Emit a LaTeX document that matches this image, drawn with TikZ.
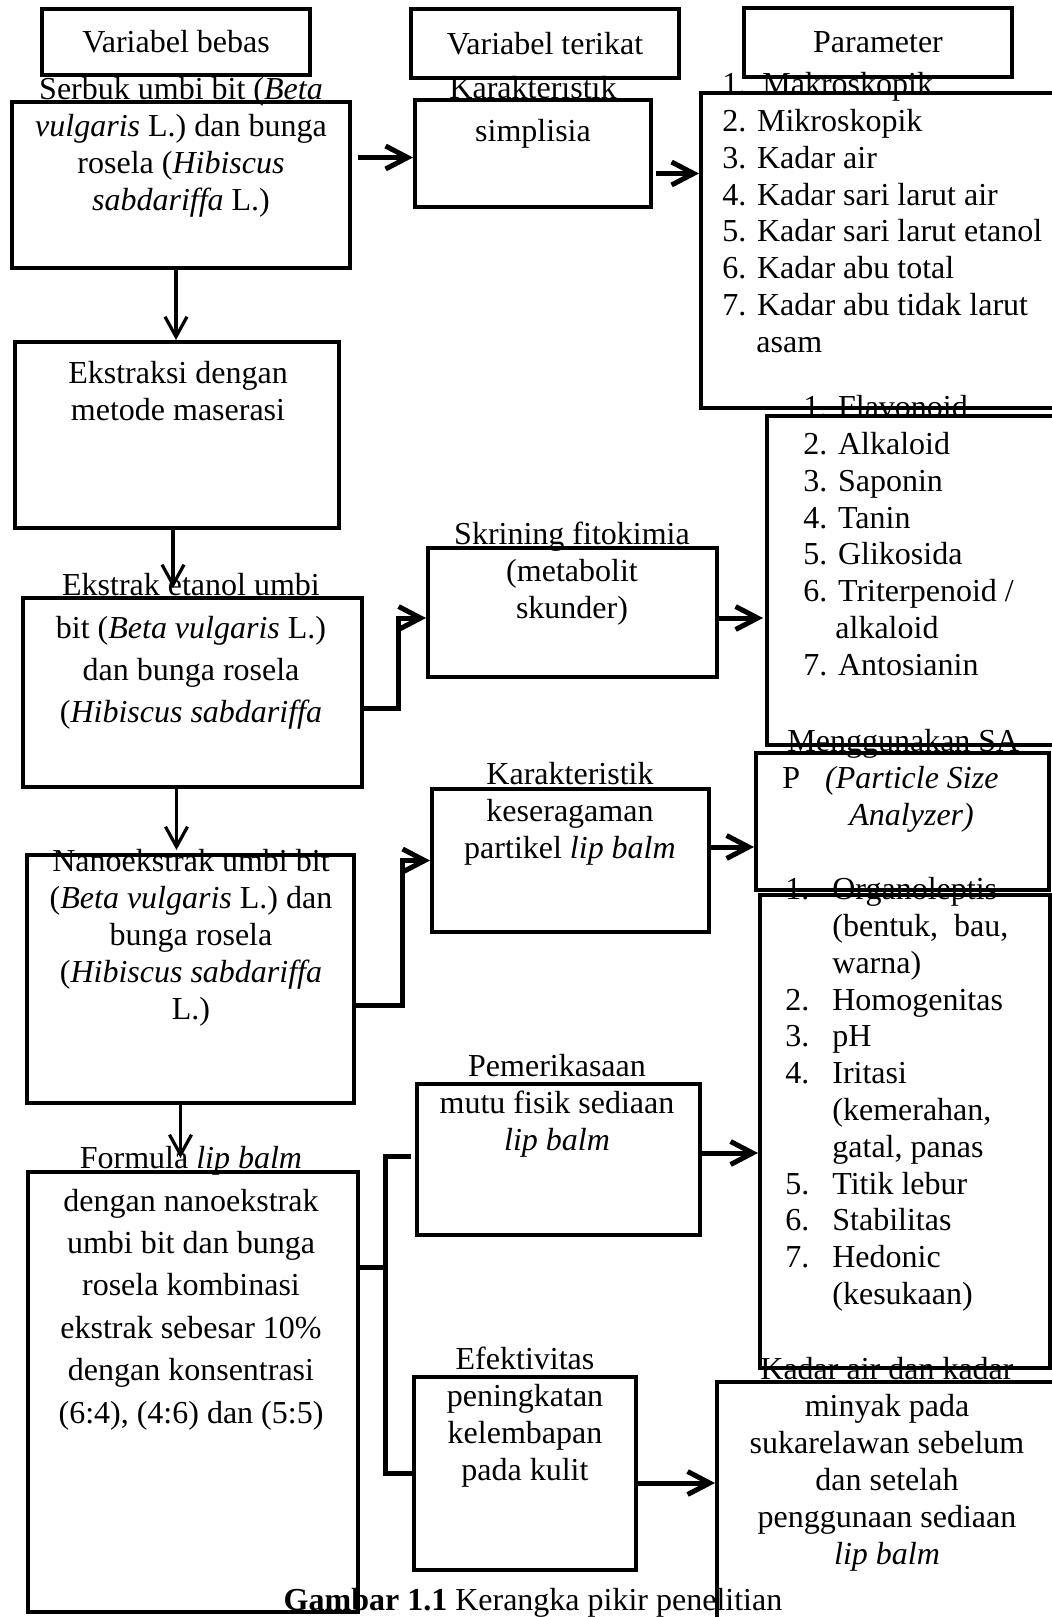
\documentclass[tikz,border=0pt]{standalone}
\usepackage{fontspec}
\setmainfont{Liberation Serif}
\usetikzlibrary{arrows.meta, positioning, calc, fit}

\begin{document}
\begin{tikzpicture}[x=0.5pt, y=-0.5pt,
    box/.style={draw, line width=2pt, inner sep=0pt},
    hdr/.style={inner sep=0pt, font=\fontsize{16}{18.5}\selectfont},
    txt/.style={anchor=north, inner sep=0pt, align=center, font=\fontsize{16}{18.5}\selectfont},
    lst/.style={anchor=north west, inner sep=0pt, align=left, font=\fontsize{16}{18.4}\selectfont},
    loose/.style={font=\fontsize{16}{21.2}\selectfont},
    fat/.style={line width=2.5pt, -{Straight Barb[length=11pt,width=11.5pt]}},
    slim/.style={line width=1.6pt, -{Straight Barb[length=10pt,width=11pt]}},
    link/.style={line width=2.5pt}]

  \useasboundingbox (0,0) rectangle (1052,1617);
  \clip (0,0) rectangle (1052,1617);

  % Headers
  \node[box, fit={(42,9) (310,75)}] (bhA) {};
  \node[box, fit={(411,9) (679,78)}] (bhB) {};
  \node[box, fit={(744,8) (1012,77)}] (bhC) {};
  \node[hdr] (hA) at (bhA.center) {Variabel bebas};
  \node[hdr] (hB) at (bhB.center) {Variabel terikat};
  \node[hdr] (hC) at (bhC.center) {Parameter};

  % Boxes
  \node[box, fit={(12,102) (350,268)}] (bA) {};
  \node[box, fit={(415,100) (651,207)}] (bB) {};
  \node[box, fit={(701,93) (1080,408)}] (bC) {};
  \node[box, fit={(15,342) (339,528)}] (bD) {};
  \node[box, fit={(23,598) (362,787)}] (bE) {};
  \node[box, fit={(428,548) (717,677)}] (bF) {};
  \node[box, fit={(767,416) (1080,745)}] (bG) {};
  \node[box, fit={(756,753) (1049,890)}] (bH) {};
  \node[box, fit={(432,789) (709,932)}] (bI) {};
  \node[box, fit={(27,855) (354,1103)}] (bJ) {};
  \node[box, fit={(760,895) (1050,1368)}] (bK) {};
  \node[box, fit={(417,1084) (700,1235)}] (bL) {};
  \node[box, fit={(28,1172) (358,1612)}] (bM) {};
  \node[box, fit={(414,1377) (636,1570)}] (bN) {};
  \node[box, fit={(717,1382) (1080,1700)}] (bO) {};

  % Texts
  \node[txt] (tA) at (181,77) {Serbuk umbi bit (\textit{Beta}\\
    \textit{vulgaris} L.) dan bunga\\rosela (\textit{Hibiscus}\\\textit{sabdariffa} L.)};
  \node[txt, loose] (tB) at (533,76) {Karakteristik\\simplisia};
  \node[lst] (tC) at (722,72) {1.\ \ Makroskopik\\2. Mikroskopik\\3. Kadar air\\
    4. Kadar sari larut air\\5. Kadar sari larut etanol\\6. Kadar abu total\\
    7. Kadar abu tidak larut\\\hspace*{17pt}asam};
  \node[txt] (tD) at (178,361) {Ekstraksi dengan\\metode maserasi};
  \node[txt, loose] (tE) at (191,573) {Ekstrak etanol umbi\\bit (\textit{Beta vulgaris} L.)\\
    dan bunga rosela\\(\textit{Hibiscus sabdariffa}};
  \node[txt] (tF) at (572,522) {Skrining fitokimia\\(metabolit\\skunder)};
  \node[lst] (tG) at (803,395) {1. Flavonoid\\2. Alkaloid\\3. Saponin\\4. Tanin\\5. Glikosida\\
    6. Triterpenoid /\\\hspace*{16pt}alkaloid\\7. Antosianin};
  \node[lst] (tH) at (782,729) {\hspace*{2.5pt}Menggunakan SA\\
    P\hspace*{12.5pt}\textit{(Particle Size}\\\hspace*{33.5pt}\textit{Analyzer)}};
  \node[txt] (tI) at (570,762) {Karakteristik\\keseragaman\\partikel \textit{lip balm}};
  \node[txt] (tJ) at (191,849) {Nanoekstrak umbi bit\\(\textit{Beta vulgaris} L.) dan\\
    bunga rosela\\(\textit{Hibiscus sabdariffa}\\L.)};
  \node[lst] (tK) at (785,877) {\makebox[23.5pt][l]{1.}Organoleptis\\
    \hspace*{23.5pt}(bentuk,\ \ bau,\\\hspace*{23.5pt}warna)\\
    \makebox[23.5pt][l]{2.}Homogenitas\\\makebox[23.5pt][l]{3.}pH\\
    \makebox[23.5pt][l]{4.}Iritasi\\\hspace*{23.5pt}(kemerahan,\\\hspace*{23.5pt}gatal, panas\\
    \makebox[23.5pt][l]{5.}Titik lebur\\\makebox[23.5pt][l]{6.}Stabilitas\\
    \makebox[23.5pt][l]{7.}Hedonic\\\hspace*{23.5pt}(kesukaan)};
  \node[txt] (tL) at (557,1054) {Pemerikasaan\\mutu fisik sediaan\\\textit{lip balm}};
  \node[txt, loose] (tM) at (191,1146) {Formula \textit{lip balm}\\dengan nanoekstrak\\
    umbi bit dan bunga\\rosela kombinasi\\ekstrak sebesar 10\%\\dengan konsentrasi\\
    (6:4), (4:6) dan (5:5)};
  \node[txt] (tN) at (525,1347) {Efektivitas\\peningkatan\\kelembapan\\pada kulit};
  \node[txt] (tO) at (887,1357) {Kadar air dan kadar\\minyak pada\\sukarelawan sebelum\\
    dan setelah\\penggunaan sediaan\\\textit{lip balm}};

  % Caption
  \node[anchor=base, inner sep=0pt, font=\fontsize{16}{18.5}\selectfont] (cap) at (533,1610)
    {\textbf{Gambar 1.1} Kerangka pikir penelitian};

  % Down arrows
  \draw[slim] ($(bA.south)+(-5,0)$) -- ($(bA.south |- bD.north)+(-5,0)$);
  \draw[slim] ($(bD.south)+(-4,0)$) -- ($(bD.south |- bE.north)+(-4,-8)$);
  \draw[slim] ($(bE.south)+(-16,0)$) -- ($(bE.south |- bJ.north)+(-16,-3)$);
  \draw[slim] ($(bJ.south)+(-10,0)$) -- ($(bJ.south |- bM.north)+(-10,-12)$);

  % Right arrows
  \draw[fat] ($(bA.east |- bB.west)+(6,4)$) -- ($(bB.west)+(0,4)$);
  \draw[fat] ($(bB.east)+(3,20)$) -- ($(bC.west |- bB.east)+(0,20)$);
  \draw[fat] ($(bE.east)+(0,15.5)$) -- ++(34,0) |- ($(bF.west)+(0,5.5)$);
  \draw[fat] ($(bF.east)+(0,5.5)$) -- ($(bG.west |- bF.east)+(-2,5.5)$);
  \draw[fat] ($(bJ.east)+(0,26)$) -- ++(46,0) |- (bI.west);
  \draw[fat] ($(bI.east)+(0,-13.5)$) -- ($(bH.west |- bI.east)+(0,-13.5)$);
  \draw[fat] ($(bL.east)+(0,-6.5)$) -- ($(bK.west |- bL.east)+(0,-6.5)$);
  \draw[fat] ($(bN.east)+(0,9.5)$) -- ($(bO.west |- bN.east)+(0,9.5)$);

  % Fork to L and N
  \coordinate (fork) at ($(bM.east)+(25,0)$);
  \draw[link] ($(bM.east)+(0,-125)$) -- ($(fork)+(0,-125)$);
  \draw[link] ($(bL.west)+(-4,-3.5)$) -| (fork) |- (bN.west);
\end{tikzpicture}
\end{document}
